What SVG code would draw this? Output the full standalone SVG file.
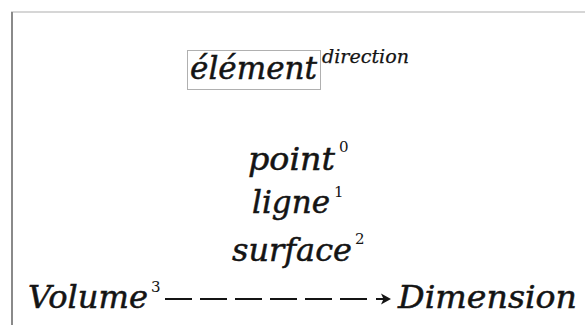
<svg xmlns="http://www.w3.org/2000/svg" width="585" height="325" viewBox="0 0 585 325">
  <defs>
    <style>
      .t { font-family: "DejaVu Serif", "Liberation Serif", serif; font-style: italic; fill: #141414; }
      .big { font-size: 31px; stroke: #141414; stroke-width: 0.5px; }
      .sup { font-size: 18px; stroke: #141414; stroke-width: 0.25px; }
      .sup2 { font-size: 15px; font-style: normal; }
    </style>
  </defs>
  <rect width="585" height="325" fill="#ffffff"/>
  <g id="frame">
    <line x1="11" y1="12" x2="585" y2="12" stroke="#c8c8c8" stroke-width="1.5"/>
    <line x1="12" y1="12" x2="12" y2="325" stroke="#8a8a8a" stroke-width="2"/>
  </g>
  <g id="element">
    <rect x="187.5" y="50.5" width="133" height="39" fill="none" stroke="#b0b0b0" stroke-width="1"/>
    <text class="t big" x="190" y="79" textLength="127" lengthAdjust="spacingAndGlyphs">élément</text>
    <text class="t sup" x="322" y="63" textLength="87" lengthAdjust="spacingAndGlyphs">direction</text>
  </g>
  <g id="point">
    <text class="t big" x="248" y="170" textLength="87" lengthAdjust="spacingAndGlyphs">point</text>
    <text class="t sup2" x="339" y="152">0</text>
  </g>
  <g id="ligne">
    <text class="t big" x="252" y="213" textLength="78" lengthAdjust="spacingAndGlyphs">ligne</text>
    <text class="t sup2" x="334" y="197">1</text>
  </g>
  <g id="surface">
    <text class="t big" x="232" y="261" textLength="120" lengthAdjust="spacingAndGlyphs">surface</text>
    <text class="t sup2" x="355" y="244">2</text>
  </g>
  <g id="volume">
    <text class="t big" x="28" y="308" textLength="120" lengthAdjust="spacingAndGlyphs">Volume</text>
    <text class="t sup2" x="151" y="292">3</text>
  </g>
  <g id="dimension">
    <text class="t big" x="398" y="308" textLength="179" lengthAdjust="spacingAndGlyphs">Dimension</text>
  </g>
  <g id="connectors">
    <line x1="165" y1="299" x2="372" y2="299" stroke="#141414" stroke-width="1.8" stroke-dasharray="27,8"/>
    <line x1="376" y1="299" x2="386" y2="299" stroke="#141414" stroke-width="2"/>
    <path d="M381,293.5 L391,299 L381,304.5 L383.5,299 z" fill="#141414"/>
  </g>
</svg>
